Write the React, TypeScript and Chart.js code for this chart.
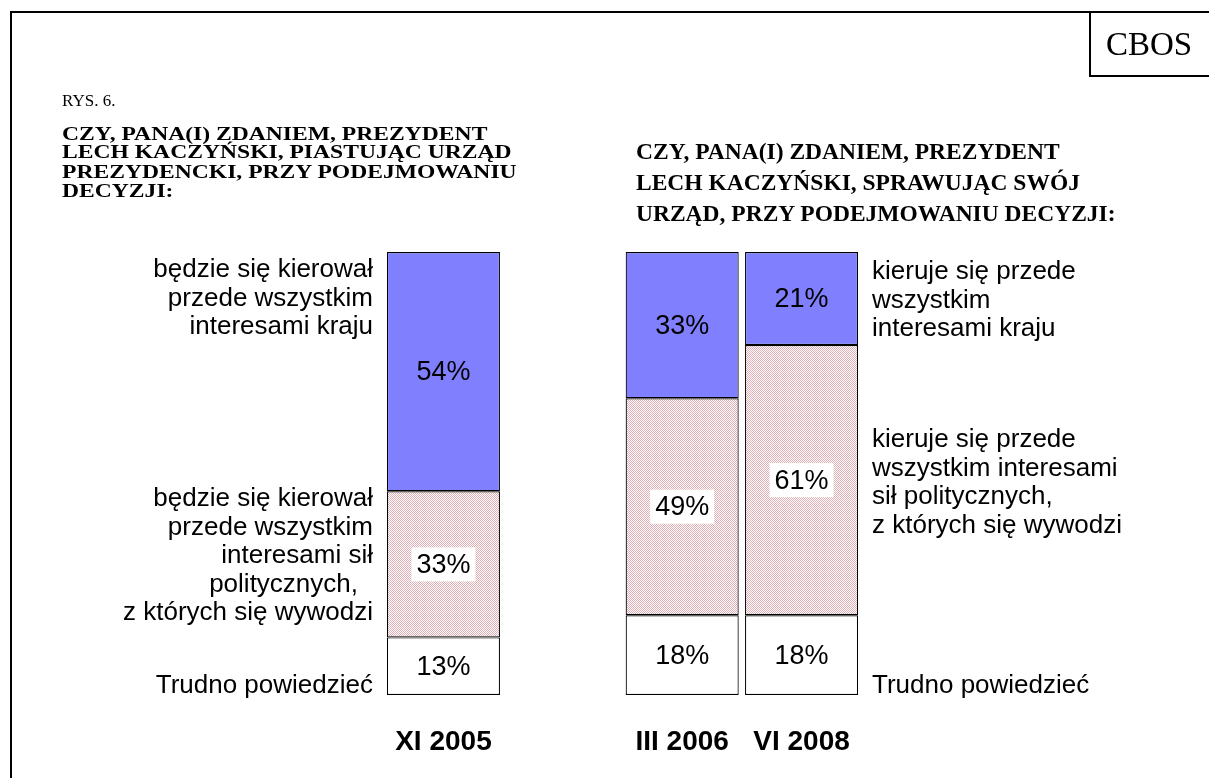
import React, { useEffect, useRef } from 'react';
import { Chart, registerables } from 'chart.js';

Chart.register(...registerables);

// ---- data ----
const categories = ['XI 2005', '', 'III 2006', 'VI 2008'];
const trudnoValues = [13, null, 18, 18];
const silyValues = [33, null, 49, 61];
const krajValues = [54, null, 33, 21];

const leftTitle = [
  'CZY, PANA(I) ZDANIEM, PREZYDENT',
  'LECH KACZYŃSKI, PIASTUJĄC URZĄD',
  'PREZYDENCKI, PRZY PODEJMOWANIU',
  'DECYZJI:',
];
const rightTitle = [
  'CZY, PANA(I) ZDANIEM, PREZYDENT',
  'LECH KACZYŃSKI, SPRAWUJĄC SWÓJ',
  'URZĄD, PRZY PODEJMOWANIU DECYZJI:',
];
const leftKraj = ['będzie się kierował', 'przede wszystkim', 'interesami kraju'];
const leftSily = ['będzie się kierował', 'przede wszystkim', 'interesami sił', 'politycznych,', 'z których się wywodzi'];
const rightKraj = ['kieruje się przede', 'wszystkim', 'interesami kraju'];
const rightSily = ['kieruje się przede', 'wszystkim interesami', 'sił politycznych,', 'z których się wywodzi'];
const trudnoLabel = 'Trudno powiedzieć';

const SANS = '"Liberation Sans", Arial, Helvetica, sans-serif';
const SERIF = '"Liberation Serif", "Times New Roman", serif';

function makePattern(): CanvasPattern | string {
  const c = document.createElement('canvas');
  c.width = 2;
  c.height = 2;
  const g = c.getContext('2d');
  if (!g) return '#f0d6d8';
  g.fillStyle = '#ffffff';
  g.fillRect(0, 0, 2, 2);
  g.fillStyle = '#e2b0b4';
  g.fillRect(0, 0, 1, 1);
  g.fillRect(1, 1, 1, 1);
  const p = g.createPattern(c, 'repeat');
  return p || '#f0d6d8';
}

const segLabels = {
  id: 'segLabels',
  afterDatasetsDraw(chart: any) {
    const ctx = chart.ctx;
    ctx.save();
    ctx.font = `27px ${SANS}`;
    ctx.textAlign = 'center';
    ctx.textBaseline = 'middle';
    chart.data.datasets.forEach((ds: any, di: number) => {
      const meta = chart.getDatasetMeta(di);
      meta.data.forEach((el: any, i: number) => {
        const v = ds.data[i];
        if (v == null) return;
        const { x, y, base } = el.getProps(['x', 'y', 'base'], true);
        const cy = (y + base) / 2;
        const t = `${v}%`;
        if (ds.labelBg) {
          const w = ctx.measureText(t).width;
          ctx.fillStyle = '#ffffff';
          ctx.fillRect(x - w / 2 - 5, cy - 17, w + 10, 34);
        }
        ctx.fillStyle = '#000000';
        ctx.fillText(t, x, cy + 1);
      });
    });
    ctx.restore();
  },
};

const textBlock = (lines: string[], style: React.CSSProperties, pads?: Record<number, number>) => (
  <div style={{ position: 'absolute', whiteSpace: 'nowrap', ...style }}>
    {lines.map((l, i) => (
      <div key={i} style={pads && pads[i] ? { paddingRight: pads[i] } : undefined}>{l}</div>
    ))}
  </div>
);

export default function App() {
  const ref = useRef<HTMLCanvasElement | null>(null);

  useEffect(() => {
    if (!ref.current) return;
    const pattern = makePattern();
    const chart = new Chart(ref.current, {
      type: 'bar',
      data: {
        labels: categories,
        datasets: [
          { label: 'Trudno powiedzieć', data: trudnoValues, backgroundColor: '#ffffff', labelBg: false } as any,
          { label: 'interesami sił politycznych', data: silyValues, backgroundColor: pattern, labelBg: true } as any,
          { label: 'interesami kraju', data: krajValues, backgroundColor: '#8080ff', labelBg: false } as any,
        ],
      },
      options: {
        responsive: false,
        animation: false,
        devicePixelRatio: 1,
        events: [],
        layout: { padding: { left: 383.75, right: 347.75, top: 252, bottom: 11.4 } },
        datasets: {
          bar: {
            categoryPercentage: 1,
            barPercentage: 0.947,
            borderColor: '#000000',
            borderWidth: 1.2,
            borderSkipped: false,
          },
        } as any,
        plugins: {
          legend: { display: false },
          tooltip: { enabled: false },
          title: { display: false },
        },
        scales: {
          x: {
            stacked: true,
            grid: { display: false, drawTicks: false },
            border: { display: false },
            ticks: {
              color: '#000000',
              font: { family: SANS, size: 28, weight: 'bold' },
              padding: 30,
              autoSkip: false,
              maxRotation: 0,
            },
          },
          y: { stacked: true, display: false, min: 0, max: 100 },
        },
      },
      plugins: [segLabels],
    });
    return () => chart.destroy();
  }, []);

  const sans: React.CSSProperties = { fontFamily: SANS, fontSize: 26, lineHeight: '28.5px', color: '#000' };
  const serifBold: React.CSSProperties = { fontFamily: SERIF, fontSize: 23.5, fontWeight: 'bold', color: '#000' };

  return (
    <div style={{ position: 'fixed', left: 0, top: 0, width: 1209, height: 778, overflow: 'hidden', background: '#fff' }}>
      <canvas ref={ref} width={1209} height={800} style={{ position: 'absolute', left: 0, top: 0, width: 1209, height: 800 }} />
      <div style={{ position: 'absolute', left: 10, top: 11, width: 1400, height: 1000, borderLeft: '2px solid #000', borderTop: '2px solid #000' }} />
      <div style={{ position: 'absolute', left: 1089, top: 11, width: 300, height: 64, borderLeft: '2px solid #000', borderBottom: '2px solid #000' }} />
      <div style={{ position: 'absolute', left: 1106, top: 24, fontFamily: SERIF, fontSize: 33, lineHeight: '40px', color: '#000' }}>CBOS</div>
      <div style={{ position: 'absolute', left: 62, top: 91, fontFamily: SERIF, fontSize: 17, lineHeight: '20px', color: '#000' }}>RYS. 6.</div>
      {textBlock(leftTitle, {
        ...serifBold,
        fontSize: 23.6,
        left: 62,
        top: 124,
        lineHeight: '24.4px',
        transform: 'scaleY(0.78)',
        transformOrigin: '0 0',
      })}
      {textBlock(rightTitle, { ...serifBold, left: 636, top: 135.5, lineHeight: '31px' })}
      {textBlock(leftKraj, { ...sans, right: 836, top: 254, textAlign: 'right' })}
      {textBlock(leftSily, { ...sans, right: 836, top: 483, textAlign: 'right' }, { 3: 15 })}
      {textBlock([trudnoLabel], { ...sans, right: 836, top: 670, textAlign: 'right' })}
      {textBlock(rightKraj, { ...sans, left: 872, top: 256 })}
      {textBlock(rightSily, { ...sans, left: 872, top: 424 })}
      {textBlock([trudnoLabel], { ...sans, left: 872, top: 670 })}
    </div>
  );
}
